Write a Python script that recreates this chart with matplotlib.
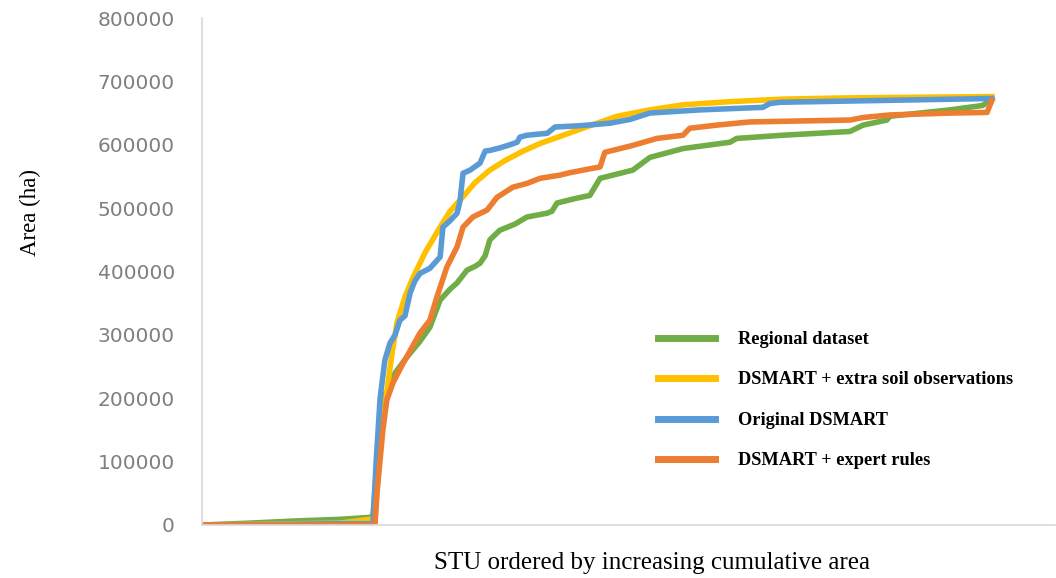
import matplotlib.pyplot as plt
from matplotlib.ticker import MultipleLocator

# STU rank (x) and cumulative area in ha (y)
regional_x = [0, 12.2, 22.3, 34.9, 42.5, 43.3, 44.6, 45.8, 47.6, 48.9, 50.1, 51.9, 55.2, 57.7, 60.3,
              62.8, 64.6, 67.1, 69.1, 70.4, 71.7, 72.9, 75.4, 79.3, 82.3, 87.4, 88.6, 89.9, 94.4,
              98.2, 100.8, 109.1, 113.4, 121.8, 133.7, 135.4, 147.1, 164.1, 167.4, 173.4, 174.2,
              189.4, 197.7, 200]
regional_y = [0, 3000, 6000, 9000, 12000, 15000, 120000, 200000, 218000, 240000, 250000, 265000,
              290000, 312000, 355000, 372000, 382000, 402000, 408000, 413000, 425000, 450000,
              465000, 475000, 486000, 492000, 495000, 508000, 515000, 520000, 547000, 560000,
              580000, 594000, 604000, 610000, 615000, 621000, 631000, 639000, 645000, 655000,
              662000, 673000]

extra_obs_x = [0, 34.9, 43.8, 45.1, 46.8, 48.1, 49.4, 51.4, 53.4, 56.5, 60.3, 62.8, 66.1, 69.1,
               72.9, 76.7, 81.3, 85.6, 90.6, 98.2, 105.1, 113.4, 121.8, 133.7, 147.1, 164.1, 200]
extra_obs_y = [0, 3000, 10000, 120000, 210000, 270000, 320000, 360000, 390000, 430000, 470000,
               495000, 518000, 540000, 560000, 575000, 590000, 602000, 613000, 630000, 645000,
               655000, 663000, 668000, 672000, 674000, 676000]

original_x = [0, 34.9, 43.3, 44.1, 45.1, 46.3, 47.6, 48.9, 50.1, 51.4, 52.7, 53.9, 55.2, 57.7,
              60.3, 61.0, 62.8, 64.6, 65.3, 66.1, 67.9, 70.4, 71.7, 72.9, 75.4, 78.0, 79.8, 80.5,
              82.3, 85.6, 87.4, 89.4, 95.7, 103.3, 108.4, 113.4, 126.1, 142.0, 143.8, 146.3, 200]
original_y = [0, 2000, 2000, 100000, 200000, 260000, 287000, 300000, 323000, 330000, 366000,
              385000, 397000, 405000, 423000, 470000, 480000, 492000, 510000, 555000, 560000,
              571000, 590000, 591000, 595000, 600000, 604000, 612000, 615000, 617000, 618000,
              628000, 630000, 634000, 640000, 650000, 655000, 659000, 665000, 667000, 673000]

expert_x = [0, 43.8, 44.3, 45.8, 46.8, 48.4, 50.9, 52.7, 55.2, 57.7, 59.5, 62.0, 64.6, 66.1,
            68.6, 72.2, 74.7, 78.7, 82.3, 85.6, 90.6, 93.2, 98.2, 100.8, 102.0, 109.1, 115.2,
            121.8, 123.5, 130.4, 138.7, 164.1, 167.4, 174.2, 189.4, 198.8, 200]
expert_y = [0, 0, 50000, 150000, 197000, 225000, 255000, 275000, 303000, 323000, 360000, 407000,
            439000, 470000, 486000, 497000, 517000, 533000, 539000, 547000, 552000, 556000,
            562000, 565000, 588000, 599000, 610000, 615000, 626000, 631000, 636000, 639000,
            643000, 647000, 650000, 651000, 670000]

series = [
    ('Regional dataset', regional_x, regional_y, '#70AD47'),
    ('DSMART + extra soil observations', extra_obs_x, extra_obs_y, '#FFC000'),
    ('Original DSMART', original_x, original_y, '#5B9BD5'),
    ('DSMART + expert rules', expert_x, expert_y, '#ED7D31'),
]

fig = plt.figure(figsize=(10.56, 5.78), dpi=100)
ax = fig.add_axes([202 / 1056, 1 - 525 / 578, (1055 - 202) / 1056, (525 - 18) / 578])

for label, xs, ys, col in series:
    ax.plot(xs, ys, color=col, lw=4, label=label, solid_joinstyle='round')

ax.set_xlim(0, 216)
ax.set_ylim(0, 800000)
ax.yaxis.set_major_locator(MultipleLocator(100000))
ax.set_xticks([])
ax.tick_params(axis='y', length=0, pad=19.5, labelsize=14.5, labelcolor='#7f7f7f')
for t in ax.get_yticklabels():
    t.set_family('DejaVu Sans')

for side in ['top', 'right']:
    ax.spines[side].set_visible(False)
for side in ['left', 'bottom']:
    ax.spines[side].set_color('#d9d9d9')
    ax.spines[side].set_linewidth(1.2)

fig.text(30 / 1056, 1 - 213 / 578, 'Area (ha)', rotation=90, ha='center', va='center',
         family='Liberation Serif', fontsize=16.5)
fig.text(652 / 1056, 1 - 563 / 578, 'STU ordered by increasing cumulative area',
         ha='center', va='center', family='Liberation Serif', fontsize=18)

leg = ax.legend(loc='upper left', bbox_to_anchor=(658 / 1056, 1 - 331 / 578),
                bbox_transform=fig.transFigure, frameon=False, borderpad=0, borderaxespad=0,
                handlelength=3.1, handletextpad=1.25, labelspacing=1.28,
                prop={'family': 'Liberation Serif', 'weight': 'bold', 'size': 13.2})
for h in leg.get_lines():
    h.set_linewidth(5)

fig.savefig('out.png', dpi=100)
